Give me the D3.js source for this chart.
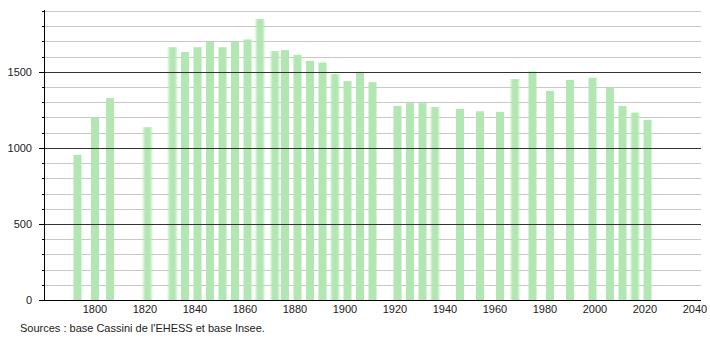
<!DOCTYPE html>
<html>
<head>
<meta charset="utf-8">
<script src="https://cdn.jsdelivr.net/npm/d3@7"></script>
<style>
  body { margin: 0; background: #fff; }
  svg text { font-family: "Liberation Sans", Arial, sans-serif; fill: #222; }
</style>
</head>
<body>
<div id="chart"></div>
<script>
// census years and population
var years = [1793, 1800, 1806, 1821, 1831, 1836, 1841, 1846, 1851, 1856, 1861, 1866,
  1872, 1876, 1881, 1886, 1891, 1896, 1901, 1906, 1911, 1921, 1926, 1931, 1936,
  1946, 1954, 1962, 1968, 1975, 1982, 1990, 1999, 2006, 2011, 2016, 2021];
var population = [954, 1199, 1327, 1136, 1662, 1630, 1662, 1697, 1662, 1697, 1713, 1847,
  1636, 1643, 1612, 1572, 1561, 1485, 1439, 1500, 1432, 1276, 1294, 1294, 1268,
  1257, 1241, 1237, 1452, 1502, 1375, 1447, 1461, 1397, 1276, 1232, 1184];
var xTicks = [1800, 1820, 1840, 1860, 1880, 1900, 1920, 1940, 1960, 1980, 2000, 2020, 2040];
var yLabels = [0, 500, 1000, 1500];
var sourceText = "Sources : base Cassini de l'EHESS et base Insee.";

var width = 710, height = 340;
var plotLeft = 44, plotRight = 701, plotTop = 11, plotBottom = 300;

var svg = d3.select('#chart').append('svg')
  .attr('width', width)
  .attr('height', height);

var x = d3.scaleLinear()
  .domain([1779.6, 2042.4])
  .range([plotLeft, plotRight]);
var y = d3.scaleLinear()
  .domain([0, 1900])
  .range([plotBottom, plotTop]);

// soft edges on a few bars, like the original
var defs = svg.append('defs');
defs.append('filter').attr('id', 'soft')
  .attr('x', '-50%').attr('width', '200%')
  .append('feGaussianBlur').attr('stdDeviation', '1.3 0');
var softYears = [1821, 1831, 1866, 1872, 1896, 1936, 1968, 2016];

function py(d) { return Math.round(y(d)) + 0.5; }

//grid
var minor = d3.range(100, 2000, 100).filter(function(d) { return d % 500 != 0; });
svg.append('g').selectAll('line')
  .data(minor)
  .enter().append('line')
    .attr('x1', plotLeft).attr('x2', plotRight)
    .attr('y1', py).attr('y2', py)
    .attr('stroke', '#c8c8c8');

//bars
svg.append('g').selectAll('rect')
  .data(years)
  .enter().append('rect')
    .attr('x', function(d) { return x(d) - 4; })
    .attr('width', 8)
    .attr('y', function(d, i) { return y(population[i]); })
    .attr('height', function(d, i) { return plotBottom - y(population[i]); })
    .attr('fill', '#b2e6b2')
    .attr('filter', function(d) { return softYears.indexOf(d) >= 0 ? 'url(#soft)' : null; });

//major lines
svg.append('g').selectAll('line')
  .data([500, 1000, 1500])
  .enter().append('line')
    .attr('x1', plotLeft).attr('x2', plotRight)
    .attr('y1', py).attr('y2', py)
    .attr('stroke', '#333');

//y axis
var yAxis = svg.append('g');
yAxis.append('line')
  .attr('x1', plotLeft + 0.5).attr('x2', plotLeft + 0.5)
  .attr('y1', 10).attr('y2', plotBottom)
  .attr('stroke', '#000');
yAxis.selectAll('.tick-minor')
  .data(minor)
  .enter().append('line')
    .attr('class', 'tick-minor')
    .attr('x1', plotLeft - 2).attr('x2', plotLeft)
    .attr('y1', py).attr('y2', py)
    .attr('stroke', '#000');
yAxis.selectAll('.tick-major')
  .data(yLabels)
  .enter().append('line')
    .attr('class', 'tick-major')
    .attr('x1', plotLeft - 5).attr('x2', plotLeft)
    .attr('y1', py).attr('y2', py)
    .attr('stroke', '#000');
yAxis.selectAll('text')
  .data(yLabels)
  .enter().append('text')
    .attr('x', 32)
    .attr('y', function(d) { return y(d); })
    .attr('dy', '0.35em')
    .attr('text-anchor', 'end')
    .style('font-size', '11px')
    .text(function(d) { return d; });

//x axis
svg.append('line')
  .attr('x1', plotLeft).attr('x2', plotRight)
  .attr('y1', plotBottom + 0.5).attr('y2', plotBottom + 0.5)
  .attr('stroke', '#000');
svg.append('g').selectAll('text')
  .data(xTicks)
  .enter().append('text')
    .attr('x', function(d) { return x(d); })
    .attr('y', 313)
    .attr('text-anchor', 'middle')
    .style('font-size', '11px')
    .text(function(d) { return d; });

svg.append('text')
  .attr('x', 20)
  .attr('y', 332)
  .style('font-size', '11px')
  .text(sourceText);
</script>
</body>
</html>
